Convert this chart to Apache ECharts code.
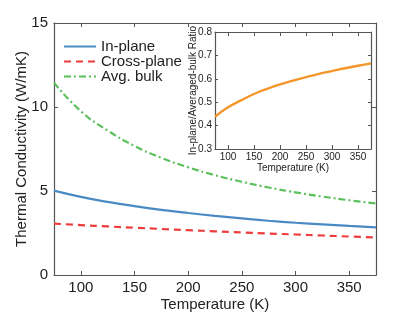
<!DOCTYPE html>
<html><head><meta charset="utf-8">
<script src="https://cdn.jsdelivr.net/npm/echarts@6/dist/echarts.min.js"></script>
<style>html,body{margin:0;padding:0;background:#fff}#c{width:415px;height:317px}</style>
</head><body><div id="c"></div>
<script>
const temps = [75,100,125,150,175,200,225,250,275,300,325,350,375];
const inPlane = [5.02,4.65,4.35,4.10,3.88,3.69,3.52,3.37,3.23,3.11,3.01,2.92,2.84];
const crossPlane = [3.06,2.97,2.89,2.81,2.74,2.67,2.60,2.53,2.47,2.41,2.35,2.29,2.23];
const avgBulk = [11.45,9.75,8.6,7.68,6.98,6.41,5.94,5.55,5.21,4.92,4.67,4.45,4.26];
const ratio = [0.438,0.478,0.508,0.535,0.557,0.576,0.592,0.607,0.621,0.633,0.645,0.656,0.666];
const mainYTicks = [0,5,10,15];
const xTicks = [100,150,200,250,300,350];

const pair = (xs, ys) => xs.map((x,i)=>[x, ys[i]]);
const font = 'Liberation Sans';
const txt = '#222';
const axc = '#555';
function xAx(gi, show, fs, margin, name, nameGap, nameFs) {
  return {type:'value', gridIndex:gi, min:75, max:375, interval:50, position: show?'bottom':'top',
    axisLine:{show:true, onZero:false, lineStyle:{color:axc, width:1.2}},
    axisTick:{show:true, inside:true, length:4, lineStyle:{color:axc}, customValues: xTicks},
    axisLabel:{show:show, fontFamily:font, fontSize:fs, color:txt, margin:margin,
      customValues: xTicks},
    splitLine:{show:false},
    name: show?name:'', nameLocation:'middle', nameGap:nameGap, nameMoveOverlap:false,
    nameTextStyle:{fontFamily:font, fontSize:nameFs, color:txt}};
}
const chart = echarts.init(document.getElementById('c'));
chart.setOption({
  animation:false,
  backgroundColor:'#fff',
  grid:[
    {left:54, top:23, right:39, bottom:40},
    {left:215, top:32, right:44, bottom:168, show:true, backgroundColor:'#fff', borderWidth:0}
  ],
  legend:{left:58, top:34, orient:'vertical', itemWidth:32, itemHeight:8, itemGap:0,
    itemStyle:{opacity:0},
    textStyle:{fontFamily:font, fontSize:15, color:txt, lineHeight:15},
    data:['In-plane','Cross-plane','Avg. bulk']},
  xAxis:[
    xAx(0,true,15,5,'Temperature (K)',22,15),
    xAx(0,false,15,5,'',0,15),
    xAx(1,true,10,3,'Temperature (K)',14,10),
    xAx(1,false,10,3,'',0,10)
  ],
  yAxis:[
    {type:'value', gridIndex:0, min:0, max:15, interval:5, position:'left',
      axisLine:{show:true, lineStyle:{color:axc, width:1.2}},
      axisTick:{show:true, inside:true, length:4, lineStyle:{color:axc}},
      axisLabel:{fontFamily:font, fontSize:15, color:txt, margin:6},
      splitLine:{show:false},
      name:'Thermal Conductivity (W/mK)', nameLocation:'middle', nameGap:25, nameMoveOverlap:false,
      nameTextStyle:{fontFamily:font, fontSize:15, color:txt}},
    {type:'value', gridIndex:0, min:0, max:15, interval:5, position:'right',
      axisLine:{show:true, lineStyle:{color:axc, width:1.2}},
      axisTick:{show:true, inside:true, length:4, lineStyle:{color:axc}},
      axisLabel:{show:false}, splitLine:{show:false}},
    {type:'value', gridIndex:1, min:0.3, max:0.8, interval:0.1, position:'left',
      axisLine:{show:true, lineStyle:{color:axc, width:1.2}},
      axisTick:{show:true, inside:true, length:3, lineStyle:{color:axc}},
      axisLabel:{fontFamily:font, fontSize:10, color:txt, margin:3, formatter:v=>v.toFixed(1)},
      splitLine:{show:false},
      name:'In-plane/Averaged-bulk Ratio', nameLocation:'middle', nameGap:17, nameMoveOverlap:false,
      nameTextStyle:{fontFamily:font, fontSize:10, color:txt}},
    {type:'value', gridIndex:1, min:0.3, max:0.8, interval:0.1, position:'right',
      axisLine:{show:true, lineStyle:{color:axc, width:1.2}},
      axisTick:{show:true, inside:true, length:3, lineStyle:{color:axc}},
      axisLabel:{show:false}, splitLine:{show:false}}
  ],
  series:[
    {name:'In-plane', type:'line', xAxisIndex:0, yAxisIndex:0, smooth:true, showSymbol:false,
      symbol:'none', data:pair(temps,inPlane), color:'#4a8ac4',
      lineStyle:{color:'#4a8ac4', width:2.2}},
    {name:'Cross-plane', type:'line', xAxisIndex:0, yAxisIndex:0, smooth:true, showSymbol:false,
      symbol:'none', data:pair(temps,crossPlane), color:'#ee3b3b',
      lineStyle:{color:'#ee3b3b', width:2.2, type:[7,5]}},
    {name:'Avg. bulk', type:'line', xAxisIndex:0, yAxisIndex:0, smooth:true, showSymbol:false,
      symbol:'none', data:pair(temps,avgBulk), color:'#5cc05c',
      lineStyle:{color:'#5cc05c', width:2.2, type:[7,3,2,3]}},
    {name:'Ratio', type:'line', xAxisIndex:2, yAxisIndex:2, smooth:true, showSymbol:false,
      symbol:'none', data:pair(temps,ratio), color:'#f5962a',
      lineStyle:{color:'#f5962a', width:2.4}}
  ]
});
</script></body></html>
